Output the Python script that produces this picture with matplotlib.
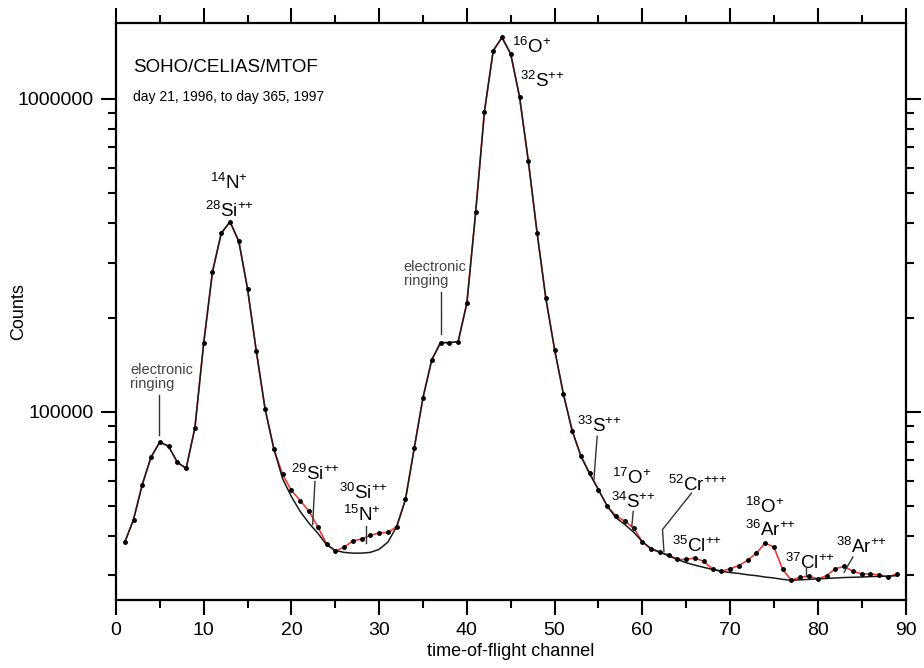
import numpy as np
import matplotlib
matplotlib.use("Agg")
import matplotlib.pyplot as plt
from matplotlib.ticker import FixedLocator, LogLocator, NullFormatter, FuncFormatter

plt.rcParams['font.family'] = ['Liberation Sans', 'DejaVu Sans']
plt.rcParams['mathtext.fontset'] = 'custom'
plt.rcParams['mathtext.rm'] = 'Liberation Sans'
plt.rcParams['mathtext.it'] = 'Liberation Sans:italic'
plt.rcParams['mathtext.bf'] = 'Liberation Sans:bold'

# time-of-flight channel
channel = np.arange(1, 90)

# measured counts (red line with dots)
counts = [38200, 45200, 58500, 71600, 80000, 77500, 68900, 65900, 88900, 165600,
          280000, 372000, 405000, 351000, 247000, 156000, 102000, 76000, 63000, 56000,
          52000, 48100, 42900, 37800, 35800, 36900, 38600, 39200, 40200, 41000,
          41100, 42900, 52400, 76500, 111000, 146600, 166300, 166300, 167400, 222600,
          433600, 911000, 1426000, 1574000, 1392000, 1017000, 635000, 374000, 230700, 158000,
          114000, 87000, 72100, 63700, 56300, 49900, 46400, 44700, 42500, 38400,
          36300, 35500, 34900, 33700, 33700, 34100, 33200, 31400, 30900, 31500,
          32200, 33500, 35300, 38000, 36900, 31300, 28900, 29600, 29800, 29200,
          29900, 31500, 32000, 30900, 30300, 30300, 30100, 29600, 30300]

# fitted main peaks (black line)
fit = [38200, 45200, 58500, 71600, 80000, 77500, 68900, 65900, 88900, 165600,
       280000, 372000, 405000, 351000, 247000, 156000, 102000, 76000, 61000, 53500,
       48000, 44000, 40900, 37600, 36000, 35500, 35300, 35300, 35500, 36300,
       38300, 42900, 52400, 76500, 111000, 146600, 166300, 166300, 167400, 222600,
       433600, 911000, 1426000, 1574000, 1392000, 1017000, 635000, 374000, 230700, 158000,
       114000, 87000, 72100, 63200, 56300, 49900, 45800, 43600, 41200, 38400,
       36500, 35600, 34600, 33700, 32900, 32300, 31800, 31300, 30900, 30600,
       30400, 30100, 29900, 29600, 29400, 29100, 28900, 29000, 29100, 29200,
       29300, 29400, 29500, 29550, 29600, 29700, 29750, 29800, 29900]

# ion labels: (text, x, y baseline, alignment)
ion_labels = [
    (r'$\mathrm{^{14}N^{+}}$', 12.9, 516000, 'center'),
    (r'$\mathrm{^{28}Si^{{+}{+}}}$', 12.95, 420000, 'center'),
    (r'$\mathrm{^{16}O^{+}}$', 45.1, 1406000, 'left'),
    (r'$\mathrm{^{32}S^{{+}{+}}}$', 46.05, 1090000, 'left'),
    (r'$\mathrm{^{29}Si^{{+}{+}}}$', 19.9, 60600, 'left'),
    (r'$\mathrm{^{30}Si^{{+}{+}}}$', 25.45, 52400, 'left'),
    (r'$\mathrm{^{15}N^{+}}$', 25.85, 44700, 'left'),
    (r'$\mathrm{^{33}S^{{+}{+}}}$', 52.6, 85900, 'left'),
    (r'$\mathrm{^{17}O^{+}}$', 56.5, 58900, 'left'),
    (r'$\mathrm{^{34}S^{{+}{+}}}$', 56.4, 49200, 'left'),
    (r'$\mathrm{^{52}Cr^{{+}{+}{+}}}$', 62.9, 55600, 'left'),
    (r'$\mathrm{^{35}Cl^{{+}{+}}}$', 63.4, 35600, 'left'),
    (r'$\mathrm{^{18}O^{+}}$', 71.7, 47400, 'left'),
    (r'$\mathrm{^{36}Ar^{{+}{+}}}$', 71.7, 40000, 'left'),
    (r'$\mathrm{^{37}Cl^{{+}{+}}}$', 76.25, 31300, 'left'),
    (r'$\mathrm{^{38}Ar^{{+}{+}}}$', 82.1, 35300, 'left'),
]

# pointer lines: (x list, y list)
pointers = [
    ([4.87, 4.87], [113300, 84400]),
    ([37.0, 37.0], [242000, 177500]),
    ([22.68, 22.42], [59800, 43500]),
    ([28.5, 28.5], [43200, 38000]),
    ([54.85, 54.48], [83400, 60700]),
    ([58.96, 58.8], [48000, 42900]),
    ([65.6, 62.3, 62.46], [54900, 42000, 35800]),
    ([78.6, 78.6], [31600, 29800]),
    ([84.0, 83.0], [34300, 30700]),
]

fig = plt.figure(figsize=(9.24, 6.68), dpi=100)
ax = fig.add_axes([0.1255, 0.1018, 0.8545, 0.8638])

ax.plot(channel, counts, color='#ee3b33', lw=1.2, zorder=2)
ax.plot(channel, fit, color='#1a1a1a', lw=1.1, zorder=3)
ax.plot(channel, counts, ls='none', marker='o', ms=2.5, color='black', zorder=4)

ax.set_yscale('log')
ax.set_xlim(0, 90)
ax.set_ylim(25000, 1.75e6)

for txt, x, y, ha in ion_labels:
    ax.text(x, y, txt, fontsize=13.5, ha=ha, va='baseline', zorder=5)

for xs, ys in pointers:
    ax.plot(xs, ys, color='#333333', lw=1.0, zorder=5)

ax.text(1.6, 113300 * 1.025, 'electronic\nringing', fontsize=10.5, color='#444444',
        ha='left', va='bottom', linespacing=1.0)
ax.text(32.8, 242000 * 1.025, 'electronic\nringing', fontsize=10.5, color='#444444',
        ha='left', va='bottom', linespacing=1.0)

ax.text(0.022, 0.915, 'SOHO/CELIAS/MTOF', transform=ax.transAxes, fontsize=13.5)
ax.text(0.022, 0.865, 'day 21, 1996, to day 365, 1997', transform=ax.transAxes, fontsize=10)

ax.set_xlabel('time-of-flight channel', fontsize=13)
ax.set_ylabel('Counts', fontsize=13)
ax.xaxis.set_label_coords(0.5, -0.075)
ax.yaxis.set_label_coords(-0.112, 0.5)

ax.xaxis.set_major_locator(FixedLocator(np.arange(0, 91, 10)))
ax.xaxis.set_minor_locator(FixedLocator(np.arange(5, 90, 10)))
ax.yaxis.set_major_locator(FixedLocator([1e5, 1e6]))
ax.yaxis.set_minor_locator(LogLocator(base=10, subs=np.arange(2, 10)))
ax.yaxis.set_minor_formatter(NullFormatter())
ax.yaxis.set_major_formatter(FuncFormatter(lambda v, p: f'{int(round(v))}'))

for s in ax.spines.values():
    s.set_linewidth(1.6)
ax.tick_params(which='both', direction='out', top=True, right=True, width=1.5, labelsize=14, pad=5)
ax.tick_params(which='major', length=11)
ax.tick_params(which='minor', length=6)

plt.savefig('out.png', dpi=100)
